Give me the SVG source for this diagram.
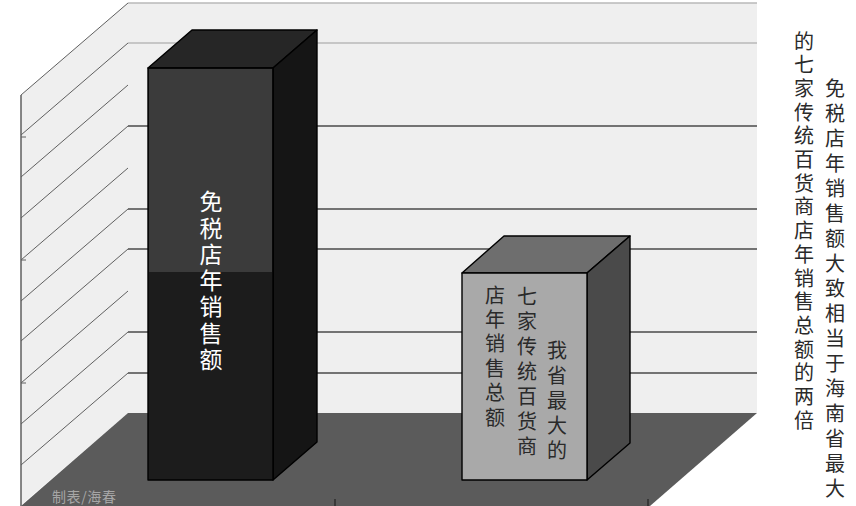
<svg xmlns="http://www.w3.org/2000/svg" width="856" height="506" viewBox="0 0 856 506">
<style>
.cjk{font-family:"Noto Sans CJK SC","Noto Sans",sans-serif;}
.vt{writing-mode:vertical-rl;}
.grid{stroke:#4a4a4a;stroke-width:1.6;}
.gridl{stroke:#b8b8b8;stroke-width:1.6;}
.diag{stroke:#606060;stroke-width:1;}
.edge{stroke:#000;stroke-width:1.4;stroke-linejoin:round;}
</style>
<rect width="856" height="506" fill="#ffffff"/>
<g id="walls">
<polygon points="128,3 757,3 757,413 128,413" fill="#efefef"/>
<polygon points="21,95 128,3 128,413 21,505" fill="#efefef"/>
<line x1="21" y1="95" x2="21" y2="506" stroke="#555" stroke-width="1.4"/>
</g>
<g id="gridlines">
<line class="gridl" x1="128" y1="3" x2="757" y2="3"/>
<line class="gridl" x1="128" y1="43" x2="757" y2="43"/>
<line class="grid" x1="128" y1="126" x2="757" y2="126"/>
<line class="grid" x1="128" y1="209" x2="757" y2="209"/>
<line class="grid" x1="128" y1="249" x2="757" y2="249"/>
<line class="grid" x1="128" y1="332" x2="757" y2="332"/>
<line class="grid" x1="128" y1="373" x2="757" y2="373"/>
<line class="diag" x1="21" y1="95" x2="128" y2="3"/>
<line class="diag" x1="21" y1="135" x2="128" y2="43"/>
<line class="diag" x1="21" y1="177" x2="128" y2="85"/>
<line class="diag" x1="21" y1="218" x2="128" y2="126"/>
<line class="diag" x1="21" y1="260" x2="128" y2="168"/>
<line class="diag" x1="21" y1="301" x2="128" y2="209"/>
<line class="diag" x1="21" y1="341" x2="128" y2="249"/>
<line class="diag" x1="21" y1="383" x2="128" y2="291"/>
<line class="diag" x1="21" y1="424" x2="128" y2="332"/>
<line class="diag" x1="21" y1="465" x2="128" y2="373"/>
<line class="diag" x1="21" y1="137" x2="26" y2="137"/>
<line class="diag" x1="21" y1="260" x2="26" y2="260"/>
<line class="diag" x1="21" y1="383" x2="26" y2="383"/>
</g>
<g id="floor">
<polygon points="128,413 757,413 650,506 21,506" fill="#5b5b5b"/>
<line x1="335" y1="499" x2="335" y2="506" stroke="#222" stroke-width="1.2"/>
<line x1="648" y1="499" x2="648" y2="506" stroke="#222" stroke-width="1.2"/>
<text class="cjk" x="52" y="502" font-size="14" letter-spacing="0.6" fill="#a6a6a6">制表/海春</text>
</g>
<g id="bar-dutyfree">
<polygon class="edge" points="148,68 192,30 317,30 273,68" fill="#262626"/>
<polygon class="edge" points="273,68 317,30 317,442 273,480" fill="#151515"/>
<rect class="edge" x="148" y="68" width="125" height="412" fill="#1c1c1c"/>
<rect x="149" y="69" width="123" height="203" fill="#3b3b3b"/>
<text class="cjk vt" x="211" y="190" font-size="23" letter-spacing="3.3" fill="#ffffff">免税店年销售额</text>
</g>
<g id="bar-department-stores">
<polygon class="edge" points="462,273 504,236 630,236 587,273" fill="#6e6e6e"/>
<polygon class="edge" points="587,273 630,236 630,443 587,480" fill="#4a4a4a"/>
<rect class="edge" x="462" y="273" width="125" height="207" fill="#a9a9a9"/>
<text class="cjk vt" x="557" y="340" font-size="20" letter-spacing="5" fill="#2a2a2a">我省最大的</text>
<text class="cjk vt" x="527" y="286" font-size="20" letter-spacing="5" fill="#2a2a2a">七家传统百货商</text>
<text class="cjk vt" x="495" y="285" font-size="20" letter-spacing="4.4" fill="#2a2a2a">店年销售总额</text>
</g>
<g id="caption">
<text class="cjk vt" x="835" y="78" font-size="20" letter-spacing="5" fill="#2a2a2a">免税店年销售额大致相当于海南省最大</text>
<text class="cjk vt" x="804" y="31" font-size="20" letter-spacing="3.7" fill="#2a2a2a">的七家传统百货商店年销售总额的两倍</text>
</g>
</svg>
